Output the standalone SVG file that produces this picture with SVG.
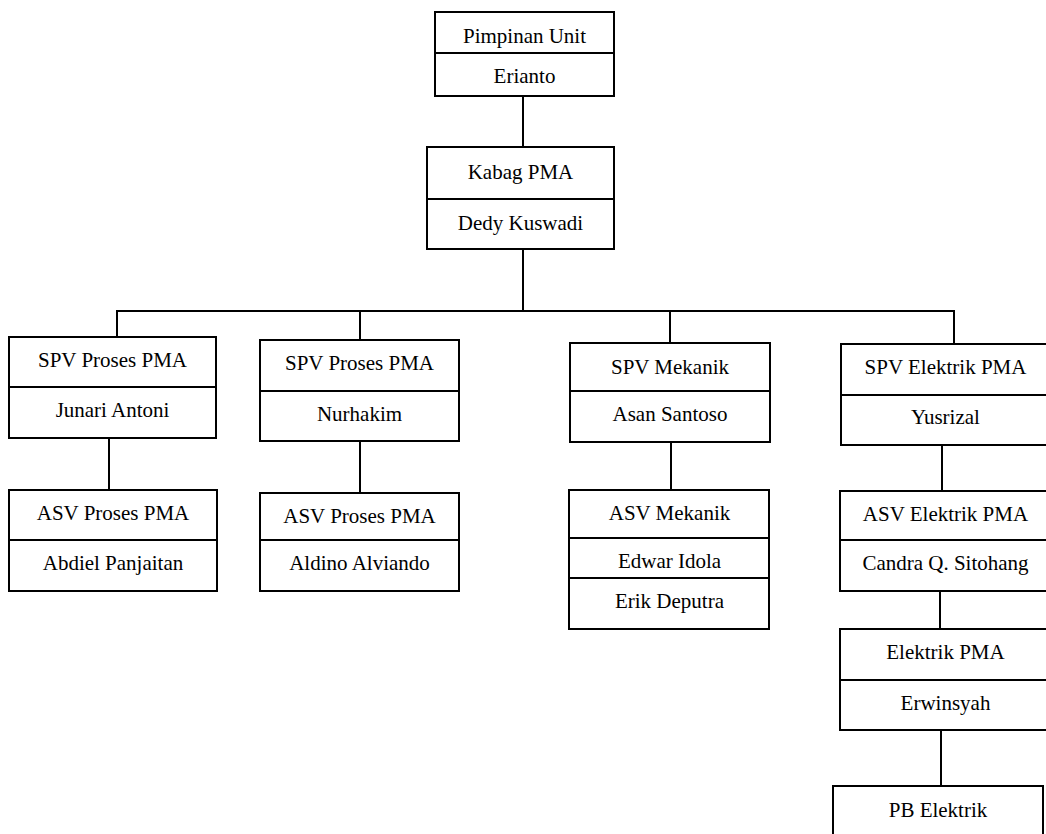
<svg xmlns="http://www.w3.org/2000/svg" width="1046" height="834" viewBox="0 0 1046 834">
<style>
.b{fill:#fff;stroke:#000;stroke-width:2}
.d{stroke:#000;stroke-width:2;fill:none}
text{font-family:'Liberation Serif','DejaVu Serif',serif;font-size:21px;fill:#000;text-anchor:middle}
</style>
<rect width="1046" height="834" fill="#fff"/>
<g id="connectors" class="d">
<line x1="523" y1="96" x2="523" y2="147"/>
<line x1="523" y1="249" x2="523" y2="311"/>
<polyline points="117,337 117,311 954,311 954,344"/>
<line x1="360" y1="311" x2="360" y2="340"/>
<line x1="670" y1="311" x2="670" y2="343"/>
<line x1="109" y1="438" x2="109" y2="490"/>
<line x1="360" y1="441" x2="360" y2="493"/>
<line x1="671" y1="442" x2="671" y2="490"/>
<line x1="942" y1="445" x2="942" y2="491"/>
<line x1="940" y1="591" x2="940" y2="629"/>
<line x1="941" y1="730" x2="941" y2="786"/>
</g>
<g id="pimpinan">
<rect class="b" x="435" y="12" width="179" height="84"/>
<line class="d" x1="435" y1="53" x2="614" y2="53"/>
<text x="524.5" y="43">Pimpinan Unit</text>
<text x="524.5" y="83">Erianto</text>
</g>
<g id="kabag">
<rect class="b" x="427" y="147" width="187" height="102"/>
<line class="d" x1="427" y1="199" x2="614" y2="199"/>
<text x="520.5" y="179">Kabag PMA</text>
<text x="520.5" y="230">Dedy Kuswadi</text>
</g>
<g id="spv1">
<rect class="b" x="9" y="337" width="207" height="101"/>
<line class="d" x1="9" y1="387" x2="216" y2="387"/>
<text x="112.5" y="367">SPV Proses PMA</text>
<text x="112.5" y="417">Junari Antoni</text>
</g>
<g id="asv1">
<rect class="b" x="9" y="490" width="208" height="101"/>
<line class="d" x1="9" y1="540" x2="217" y2="540"/>
<text x="113" y="520">ASV Proses PMA</text>
<text x="113" y="570">Abdiel Panjaitan</text>
</g>
<g id="spv2">
<rect class="b" x="260" y="340" width="199" height="101"/>
<line class="d" x1="260" y1="391" x2="459" y2="391"/>
<text x="359.5" y="370">SPV Proses PMA</text>
<text x="359.5" y="421">Nurhakim</text>
</g>
<g id="asv2">
<rect class="b" x="260" y="493" width="199" height="98"/>
<line class="d" x1="260" y1="540" x2="459" y2="540"/>
<text x="359.5" y="523">ASV Proses PMA</text>
<text x="359.5" y="570">Aldino Alviando</text>
</g>
<g id="spv-mekanik">
<rect class="b" x="570" y="343" width="200" height="99"/>
<line class="d" x1="570" y1="391" x2="770" y2="391"/>
<text x="670" y="374">SPV Mekanik</text>
<text x="670" y="421">Asan Santoso</text>
</g>
<g id="asv-mekanik">
<rect class="b" x="569" y="490" width="200" height="139"/>
<line class="d" x1="569" y1="538" x2="769" y2="538"/>
<line class="d" x1="569" y1="578" x2="769" y2="578"/>
<text x="669.5" y="520">ASV Mekanik</text>
<text x="669.5" y="568">Edwar Idola</text>
<text x="669.5" y="608">Erik Deputra</text>
</g>
<g id="spv-elektrik">
<rect class="b" x="841" y="344" width="210" height="101"/>
<line class="d" x1="841" y1="395" x2="1051" y2="395"/>
<text x="945.5" y="374">SPV Elektrik PMA</text>
<text x="945.5" y="424">Yusrizal</text>
</g>
<g id="asv-elektrik">
<rect class="b" x="840" y="491" width="211" height="100"/>
<line class="d" x1="840" y1="540" x2="1051" y2="540"/>
<text x="945.5" y="520.5">ASV Elektrik PMA</text>
<text x="945.5" y="570">Candra Q. Sitohang</text>
</g>
<g id="elektrik-pma">
<rect class="b" x="840" y="629" width="211" height="101"/>
<line class="d" x1="840" y1="680" x2="1051" y2="680"/>
<text x="945.5" y="659">Elektrik PMA</text>
<text x="945.5" y="710">Erwinsyah</text>
</g>
<g id="pb-elektrik">
<rect class="b" x="833" y="786" width="210" height="60"/>
<text x="938" y="816.5">PB Elektrik</text>
</g>
</svg>
